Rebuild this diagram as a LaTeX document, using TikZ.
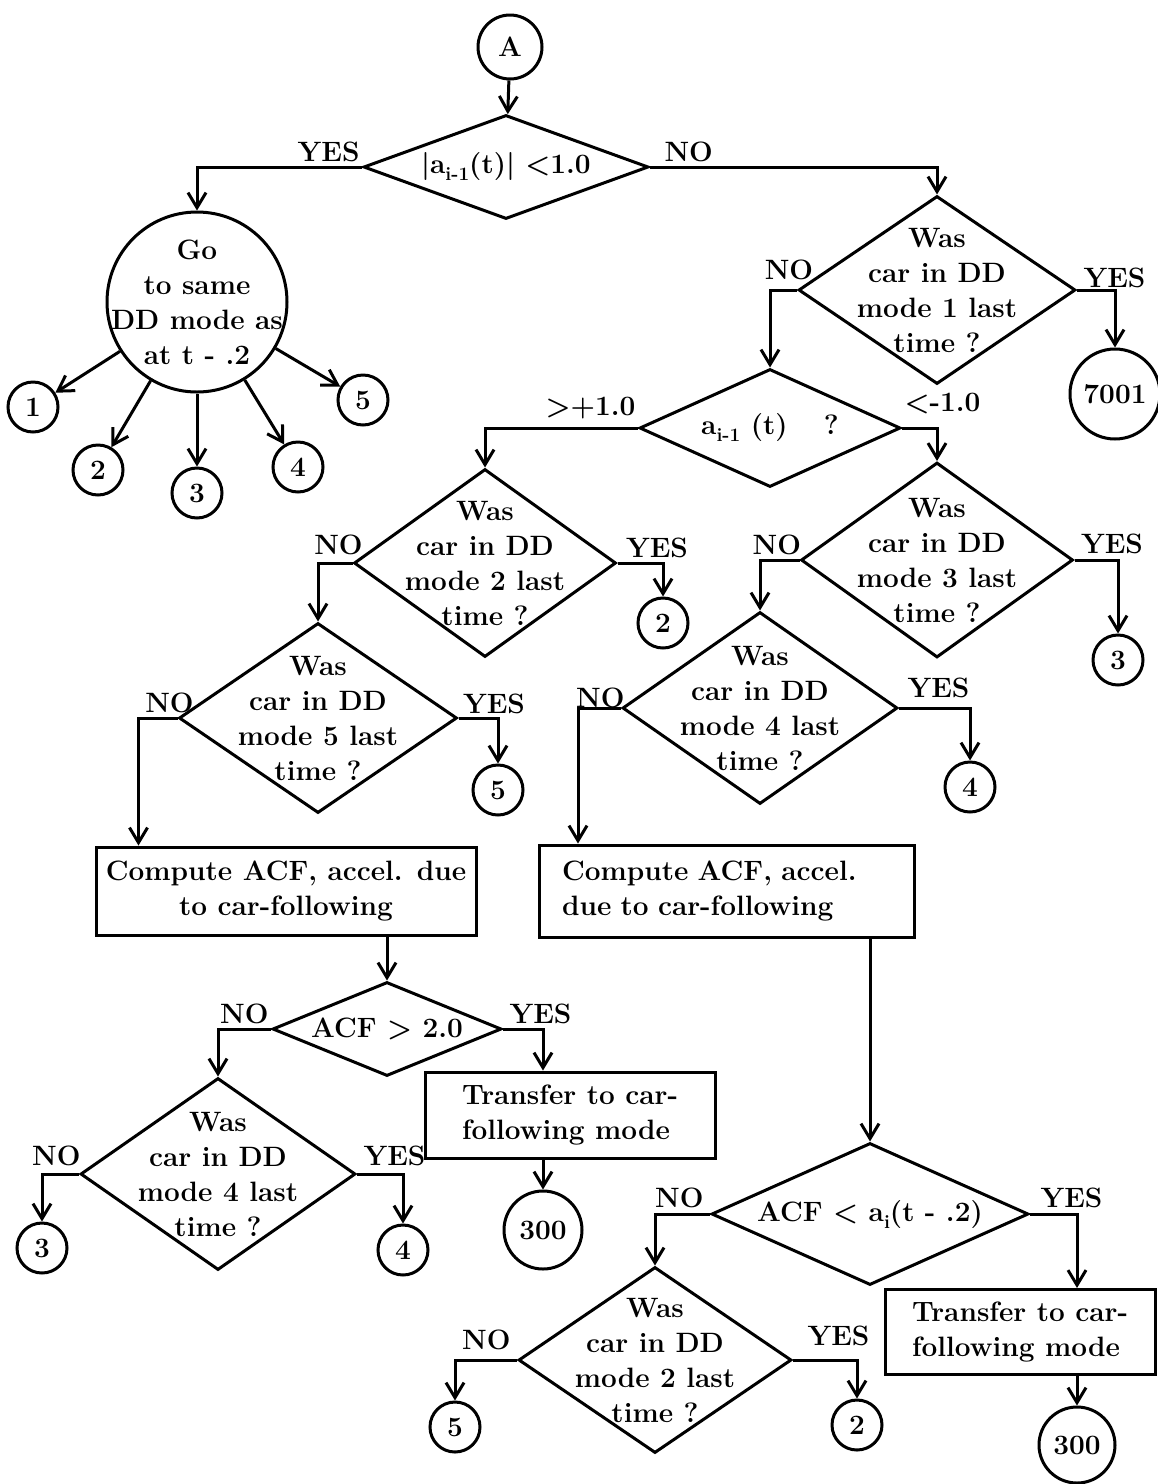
\documentclass[tikz,border=0pt]{standalone}
\usepackage{fontspec}
\usetikzlibrary{shapes.geometric,arrows.meta}
\newcommand\sbs[1]{\raisebox{-7pt}{\fontsize{19}{19}\selectfont #1}}
\begin{document}
\begin{tikzpicture}[x=1pt, y=-1pt, line width=3pt,
    every node/.style={font=\fontsize{28}{35}\selectfont\bfseries},
    arr/.style={-{Straight Barb[length=15pt,width=18pt]}},
    ask/.style={diamond, draw, inner sep=0pt, label={[align=center]center:#1}},
    blk/.style={rectangle, draw, inner sep=6pt},
    conn/.style={circle, draw, inner sep=0pt, minimum size=50pt},
    yn/.style={inner sep=1pt}]
    \useasboundingbox (0,0) rectangle (1158,1484);

    \node[conn, minimum size=64pt] (start) at (510,47) {A};
    \node[ask={\textbar a\sbs{i-1}(t)\textbar\ \textless 1.0}, minimum width=285pt, minimum height=104pt] (d1) at (506,167) {};
    \node[circle, draw, minimum size=180pt, label={[align=center]center:Go\\to same\\DD mode as\\at t - .2}] (go) at (197,302) {};
    \node[conn] (g1) at (33,407) {1};
    \node[conn] (g2) at (98,470) {2};
    \node[conn] (g3) at (197,493) {3};
    \node[conn] (g4) at (298,467) {4};
    \node[conn] (g5) at (363,400) {5};

    \node[ask={Was\\car in DD\\mode 1 last\\time ?}, minimum width=277pt, minimum height=188pt] (d2) at (937,290) {};
    \node[conn, minimum size=90pt] (x7001) at (1115,394) {7001};
    \node[ask={a\sbs{i-1}\ (t)\hspace{1.3em}?}, minimum width=261pt, minimum height=118pt] (d3) at (770,428) {};

    \node[ask={Was\\car in DD\\mode 2 last\\time ?}, minimum width=262pt, minimum height=188pt] (d4) at (485,563) {};
    \node[conn] (m2a) at (663,623) {2};
    \node[ask={Was\\car in DD\\mode 3 last\\time ?}, minimum width=272pt, minimum height=195pt] (d5) at (937,560) {};
    \node[conn] (m3a) at (1118,660) {3};
    \node[ask={Was\\car in DD\\mode 5 last\\time ?}, minimum width=278pt, minimum height=190pt] (d6) at (318,718) {};
    \node[conn] (m5a) at (498,790) {5};
    \node[ask={Was\\car in DD\\mode 4 last\\time ?}, minimum width=275pt, minimum height=192pt] (d9) at (760,708) {};
    \node[conn] (m4a) at (970,787) {4};

    \node[blk, minimum width=380pt, minimum height=88pt, align=center] (acf1) at (286,891) {Compute ACF, accel. due\\to car-following};
    \node[blk, minimum width=375pt, minimum height=92pt, text width=330pt, align=left] (acf2) at (727,891) {Compute ACF, accel.\\due to car-following};

    \node[ask={ACF > 2.0}, minimum width=229pt, minimum height=94pt] (d7) at (387,1029) {};
    \node[blk, minimum width=290pt, minimum height=86pt, align=left] (tr1) at (570,1115) {Transfer to car-\\following mode};
    \node[conn, minimum size=78pt] (e300a) at (543,1230) {300};
    \node[ask={Was\\car in DD\\mode 4 last\\time ?}, minimum width=275pt, minimum height=192pt] (d8) at (218,1174) {};
    \node[conn] (m3b) at (42,1248) {3};
    \node[conn] (m4b) at (403,1250) {4};

    \node[ask={ACF \textless\ a\sbs{i}(t - .2)}, minimum width=317pt, minimum height=142pt] (d10) at (870,1214) {};
    \node[blk, minimum width=270pt, minimum height=85pt, align=left] (tr2) at (1020,1332) {Transfer to car-\\following mode};
    \node[conn, minimum size=76pt] (e300b) at (1077,1445) {300};
    \node[ask={Was\\car in DD\\mode 2 last\\time ?}, minimum width=273pt, minimum height=186pt] (d11) at (655,1360) {};
    \node[conn] (m5b) at (455,1427) {5};
    \node[conn] (m2b) at (857,1425) {2};

    \node[yn, anchor=south east] (y1) at ([yshift=3pt]d1.west) {YES};
    \node[yn, anchor=south west] (n1) at ([xshift=12pt,yshift=3pt]d1.east) {NO};
    \node[yn, anchor=south] (n2) at ([xshift=-8pt,yshift=8pt]d2.west) {NO};
    \node[yn, anchor=south west] (y2) at ([xshift=4pt,yshift=0pt]d2.east) {YES};
    \node[yn, anchor=south east] (n3) at ([yshift=6pt]d3.west) {>+1.0};
    \node[yn, anchor=south west] (y3) at ([yshift=12pt]d3.east) {<-1.0};
    \node[yn, anchor=south] (n4) at ([xshift=-14pt,yshift=6pt]d4.west) {NO};
    \node[yn, anchor=south west] (y4) at ([xshift=6pt,yshift=3pt]d4.east) {YES};
    \node[yn, anchor=south] (n6) at ([xshift=-8pt,yshift=3pt]d6.west) {NO};
    \node[yn, anchor=south west] (y6) at ([xshift=2pt,yshift=2pt]d6.east) {YES};
    \node[yn, anchor=south east] (n5) at ([xshift=4pt,yshift=3pt]d5.west) {NO};
    \node[yn, anchor=south west] (y5) at ([xshift=4pt,yshift=4pt]d5.east) {YES};
    \node[yn, anchor=south east] (n9) at ([xshift=6pt,yshift=-2pt]d9.west) {NO};
    \node[yn, anchor=south west] (y9) at ([xshift=6pt,yshift=8pt]d9.east) {YES};
    \node[yn, anchor=south east] (n7) at ([yshift=3pt]d7.west) {NO};
    \node[yn, anchor=south west] (y7) at ([xshift=4pt,yshift=3pt]d7.east) {YES};
    \node[yn, anchor=south east] (n8) at ([xshift=4pt,yshift=6pt]d8.west) {NO};
    \node[yn, anchor=south west] (y8) at ([xshift=4pt,yshift=6pt]d8.east) {YES};
    \node[yn, anchor=south east] (n10) at ([xshift=-4pt,yshift=4pt]d10.west) {NO};
    \node[yn, anchor=south west] (y10) at ([xshift=8pt,yshift=4pt]d10.east) {YES};
    \node[yn, anchor=south east] (n11) at ([xshift=-4pt,yshift=8pt]d11.west) {NO};
    \node[yn, anchor=south west] (y11) at ([xshift=12pt,yshift=12pt]d11.east) {YES};

    \draw[arr] (start) -- (d1);
    \draw[arr] (d1.west) -| (go);
    \draw[arr] (d1.east) -| (d2);
    \foreach \k in {1,...,5} \draw[arr] (go) -- (g\k);
    \draw[arr] (d2.west) -| (d3);
    \draw[arr] (d2.east) -| (x7001);
    \draw[arr] (d3.west) -| (d4);
    \draw[arr] (d3.east) -| (d5);
    \draw[arr] (d4.east) -| (m2a);
    \draw[arr] (d4.west) -| (d6);
    \draw[arr] (d6.east) -| (m5a);
    \draw[arr] (d6.west) -| ([xshift=44pt]acf1.north west);
    \draw[arr] (d5.east) -| (m3a);
    \draw[arr] (d5.west) -| (d9);
    \draw[arr] (d9.east) -| (m4a);
    \draw[arr] (d9.west) -| ([xshift=40pt]acf2.north west);
    \draw[arr] (acf1.south -| d7.north) -- (d7);
    \draw[arr] (d7.west) -| (d8);
    \draw[arr] (d7.east) -| (e300a |- tr1.north);
    \draw[arr] (tr1.south -| e300a) -- (e300a);
    \draw[arr] (d8.west) -| (m3b);
    \draw[arr] (d8.east) -| (m4b);
    \draw[arr] (acf2.south -| d10.north) -- (d10);
    \draw[arr] (d10.west) -| (d11);
    \draw[arr] (d10.east) -| (e300b |- tr2.north);
    \draw[arr] (tr2.south -| e300b) -- (e300b);
    \draw[arr] (d11.west) -| (m5b);
    \draw[arr] (d11.east) -| (m2b);
\end{tikzpicture}
\end{document}
